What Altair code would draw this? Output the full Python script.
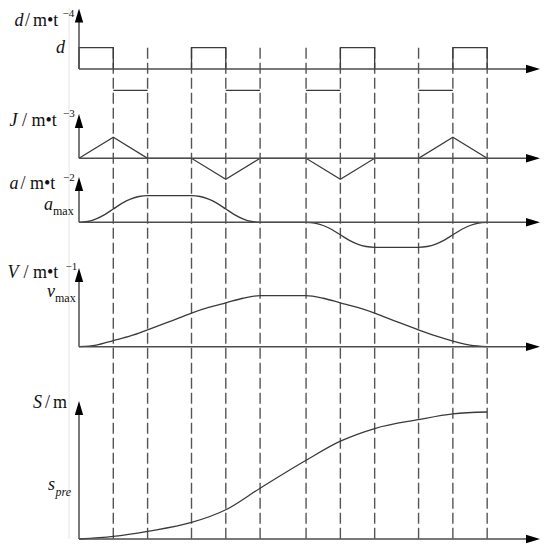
import altair as alt
import pandas as pd

# ---------------- values ----------------
# phase boundaries (time units); the dashed lines sit at PHASE_T[1:]
PHASE_T = [0, 1, 2, 3.28, 4.28, 5.28, 6.62, 7.62, 8.62, 9.9, 10.9, 11.9]

# snap d : +d pulses and -d segments (pairs of phase indices)
SNAP_LEVEL = 1.0
SNAP_UP = [(0, 1), (3, 4), (7, 8), (10, 11)]
SNAP_DOWN = [(1, 2), (4, 5), (6, 7), (9, 10)]

# jerk J at each phase boundary
JERK = [0, 1, 0, 0, -1, 0, 0, -1, 0, 0, 1, 0]

# acceleration a (a_max = 1)
ACC_T = [0, 0.25, 0.5, 0.75, 1, 1.25, 1.5, 1.75, 2,
         3.28, 3.53, 3.78, 4.03, 4.28, 4.53, 4.78, 5.03, 5.28,
         6.62, 6.87, 7.12, 7.37, 7.62, 7.87, 8.12, 8.37, 8.62,
         9.9, 10.15, 10.4, 10.65, 10.9, 11.15, 11.4, 11.65, 11.9]
ACC = [0, 0.03, 0.13, 0.29, 0.5, 0.71, 0.87, 0.97, 1,
       1, 0.97, 0.87, 0.71, 0.5, 0.29, 0.13, 0.03, 0,
       0, -0.03, -0.12, -0.27, -0.47, -0.67, -0.82, -0.91, -0.94,
       -0.94, -0.91, -0.82, -0.67, -0.47, -0.27, -0.12, -0.03, 0]

# velocity V (v_max = 1)
VEL_T = [0, 0.5, 1, 1.5, 2, 2.64, 3.28, 3.78, 4.28, 4.78, 5.28,
         6.62, 7.12, 7.62, 8.12, 8.62, 9.26, 9.9, 10.4, 10.9, 11.4, 11.9]
VEL = [0, 0.03, 0.12, 0.21, 0.33, 0.49, 0.66, 0.77, 0.86, 0.95, 1.0,
       1.0, 0.95, 0.86, 0.77, 0.66, 0.49, 0.33, 0.21, 0.11, 0.03, 0]

# position S at each phase boundary (final = 1)
POS = [0, 0.02, 0.06, 0.13, 0.23, 0.40, 0.62, 0.77, 0.87, 0.94, 0.985, 1.0]

# ---------------- layout ----------------
W, H = 534, 531
PAGE_TOP, PAGE_BOTTOM = 8, 8 + H
ORIGIN_X, PX_PER_T = 79, 34.3
XMIN = (8 - ORIGIN_X) / PX_PER_T
XMAX = (8 + W - ORIGIN_X) / PX_PER_T

PANELS = {  # page y of the zero line, px per unit
    "d": (69.0, 21.3),
    "J": (158.3, 21.0),
    "a": (222.3, 26.6),
    "V": (346.7, 51.0),
    "S": (539.0, 127.0),
}
ARROW_TIP = {"d": 8.5, "J": 114, "a": 177, "V": 268, "S": 401}
AXIS_END_X = 540

AX_COLOR = "#4d4d4d"
CURVE_COLOR = "#3a3a3a"
DASH_COLOR = "#555555"
TEXT_COLOR = "#111111"
FONT = "Liberation Serif"

UP_HEAD = "M0,-1L-0.6,1L0.6,1Z"
RIGHT_HEAD = "M1,0L-1,-0.6L-1,0.6Z"


def vx(page_x):
    return (page_x - ORIGIN_X) / PX_PER_T


def vy(p, page_y):
    base, unit = PANELS[p]
    return (base - page_y) / unit


XS = alt.Scale(domain=[XMIN, XMAX], nice=False, zero=False)


def X(f="x"):
    return alt.X(f"{f}:Q", scale=XS, axis=None)


def Y(p, f="y"):
    return alt.Y(f"{f}:Q", scale=alt.Scale(domain=[vy(p, PAGE_BOTTOM), vy(p, PAGE_TOP)],
                                            nice=False, zero=False), axis=None)


def axes(p):
    tip = ARROW_TIP[p]
    h = pd.DataFrame({"x": [0], "x2": [vx(AXIS_END_X - 8)], "y": [0]})
    v = pd.DataFrame({"x": [0], "y": [0], "y2": [vy(p, tip + 10)]})
    hh = pd.DataFrame({"x": [vx(AXIS_END_X - 7)], "y": [0]})
    vh = pd.DataFrame({"x": [0], "y": [vy(p, tip + 7)]})
    return [
        alt.Chart(h).mark_rule(color=AX_COLOR, strokeWidth=1.5).encode(x=X(), x2="x2:Q", y=Y(p)),
        alt.Chart(v).mark_rule(color=AX_COLOR, strokeWidth=1.5).encode(x=X(), y=Y(p), y2="y2:Q"),
        alt.Chart(hh).mark_point(shape=RIGHT_HEAD, size=196, filled=True, opacity=1,
                                 color="#000000", strokeWidth=0).encode(x=X(), y=Y(p)),
        alt.Chart(vh).mark_point(shape=UP_HEAD, size=196, filled=True, opacity=1,
                                 color="#000000", strokeWidth=0).encode(x=X(), y=Y(p)),
    ]


def text(p, page_x, page_y, s, size=18, style="normal", align="left"):
    df = pd.DataFrame({"x": [vx(page_x)], "y": [vy(p, page_y)], "t": [s]})
    return alt.Chart(df).mark_text(font=FONT, fontSize=size, fontStyle=style, align=align,
                                   baseline="alphabetic", color=TEXT_COLOR).encode(
        x=X(), y=Y(p), text="t:N")


def axis_label(p, var, var_right, slash_x, unit_x, unit, base_y, sup=None, sup_x=None, sup_y=None):
    out = [text(p, var_right, base_y, var, style="italic", align="right"),
           text(p, slash_x, base_y, "/"),
           text(p, unit_x, base_y, unit)]
    if sup:
        out.append(text(p, sup_x, sup_y, sup, size=11))
    return out


# ---------------- panel d (snap) ----------------
pulse_rows = []
for k, (a, b) in enumerate(SNAP_UP):
    for o, (xx, yy) in enumerate([(PHASE_T[a], 0), (PHASE_T[a], SNAP_LEVEL),
                                   (PHASE_T[b], SNAP_LEVEL), (PHASE_T[b], 0)]):
        pulse_rows.append({"pulse": k, "o": o, "x": xx, "y": yy})
pulses = pd.DataFrame(pulse_rows)
downs = pd.DataFrame({"x": [PHASE_T[a] for a, _ in SNAP_DOWN],
                      "x2": [PHASE_T[b] for _, b in SNAP_DOWN],
                      "y": [-SNAP_LEVEL] * len(SNAP_DOWN)})
dashes = pd.DataFrame({"x": PHASE_T[1:], "y": [SNAP_LEVEL] * (len(PHASE_T) - 1),
                       "y2": [vy("d", PAGE_BOTTOM)] * (len(PHASE_T) - 1)})
edge = pd.DataFrame({"x": [vx(69)], "y": [vy("d", PAGE_TOP)], "y2": [vy("d", PAGE_BOTTOM)]})

d_layers = [
    alt.Chart(edge).mark_rule(color="#e6e6e6", strokeWidth=1).encode(x=X(), y=Y("d"), y2="y2:Q"),
    alt.Chart(dashes).mark_rule(color=DASH_COLOR, strokeWidth=1.4, strokeDash=[11, 4]).encode(
        x=X(), y=Y("d"), y2="y2:Q"),
    alt.Chart(pulses).mark_line(color=CURVE_COLOR, strokeWidth=1.3).encode(
        x=X(), y=Y("d"), detail="pulse:N", order="o:Q"),
    alt.Chart(downs).mark_rule(color=CURVE_COLOR, strokeWidth=1.3).encode(x=X(), x2="x2:Q", y=Y("d")),
] + axes("d") + axis_label("d", "d", 23.5, 25, 33, "m•t", 26, "−4", 62.5, 17) + [
    text("d", 65, 53, "d", style="italic", align="right"),
]

# ---------------- panel J (jerk) ----------------
jerk = pd.DataFrame({"x": PHASE_T, "y": JERK})
J_layers = [
    alt.Chart(jerk).mark_line(color=CURVE_COLOR, strokeWidth=1.3).encode(x=X(), y=Y("J")),
] + axes("J") + axis_label("J", "J", 17.5, 22, 31.5, "m•t", 125.7, "−3", 63, 117)

# ---------------- panel a (acceleration) ----------------
acc = pd.DataFrame({"x": ACC_T, "y": ACC})
a_layers = [
    alt.Chart(acc).mark_line(color=CURVE_COLOR, strokeWidth=1.3, interpolate="monotone").encode(
        x=X(), y=Y("a")),
] + axes("a") + axis_label("a", "a", 18.5, 20.5, 30, "m•t", 189, "−2", 63, 181) + [
    text("a", 53, 210, "a", style="italic", align="right"),
    text("a", 53, 215, "max", size=12),
]

# ---------------- panel V (velocity) ----------------
vel = pd.DataFrame({"x": VEL_T, "y": VEL})
V_layers = [
    alt.Chart(vel).mark_line(color=CURVE_COLOR, strokeWidth=1.3, interpolate="monotone").encode(
        x=X(), y=Y("V")),
] + axes("V") + axis_label("V", "V", 18.5, 23.5, 33, "m•t", 278, "−1", 65.5, 270) + [
    text("V", 55, 297, "v", style="italic", align="right"),
    text("V", 55, 302, "max", size=12),
]

# ---------------- panel S (position) ----------------
pos = pd.DataFrame({"x": PHASE_T, "y": POS})
S_layers = [
    alt.Chart(pos).mark_line(color=CURVE_COLOR, strokeWidth=1.3, interpolate="monotone").encode(
        x=X(), y=Y("S")),
] + axes("S") + [
    text("S", 42, 408, "S", style="italic", align="right"),
    text("S", 45, 408, "/"),
    text("S", 53, 408, "m"),
    text("S", 55, 490, "s", style="italic", align="right"),
    text("S", 55.5, 496, "pre", size=12, style="italic"),
]

chart = alt.layer(
    alt.layer(*d_layers),
    alt.layer(*J_layers),
    alt.layer(*a_layers),
    alt.layer(*V_layers),
    alt.layer(*S_layers),
).resolve_scale(y="independent").properties(
    width=W, height=H,
    autosize=alt.AutoSizeParams(type="none"),
    padding={"left": 0, "top": 0, "right": 0, "bottom": 6},
    background="white",
).configure_view(stroke=None)

chart.save("out.html", embed_options={"renderer": "svg", "actions": False})
